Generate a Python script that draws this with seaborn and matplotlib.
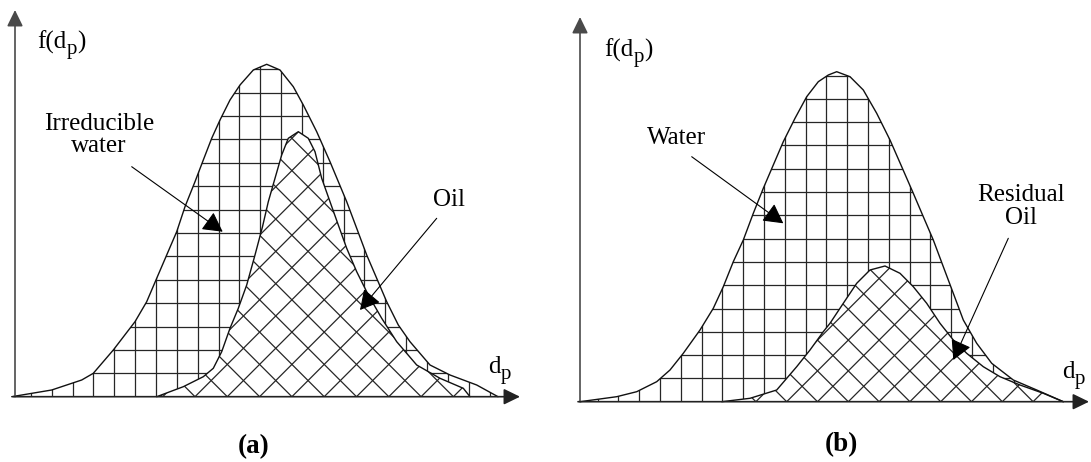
import numpy as np
import matplotlib
matplotlib.use("Agg")
import matplotlib.pyplot as plt
import seaborn as sns
from matplotlib.collections import LineCollection
from matplotlib.patches import Polygon
from matplotlib.transforms import offset_copy

# ---------------- data ----------------
# panel (a): total pore-size distribution (irreducible water + oil)
a_total_dp = [-3.3, 36.7, 66.7, 78.3, 98.3, 120, 131.7, 141.7, 151.7, 161.7, 170, 180,
              188.3, 196.7, 205, 215, 225, 238.3, 251.7, 265, 278.3, 288.3, 301.7, 315,
              331.7, 341.7, 351.7, 361.7, 371.7, 383.3, 395, 415, 435, 461.7, 483]
a_total_f = [0, 6.7, 16.7, 23.4, 46.7, 75, 95, 118.4, 141.7, 165, 190, 215,
             236.7, 258.4, 276.7, 296.7, 311.7, 326.7, 332.4, 326.7, 310, 291.7, 265, 235,
             195, 168.4, 141.7, 118.4, 95, 71.7, 55, 31.7, 21.7, 11.7, 0]
# panel (a): oil-filled pores
a_oil_dp = [141.7, 168.3, 188.3, 198.3, 206.7, 215, 223.3, 231.7, 240, 247.5, 253.3, 260,
            266.7, 273.3, 283.3, 293.3, 300, 306.7, 315, 323.3, 331.7, 341.7, 353.3, 366.7,
            381.7, 401.7, 425, 448.3, 455]
a_oil_f = [0, 10, 20, 28.4, 45, 68.4, 88.4, 111.7, 141.7, 170, 195, 218.4,
           241.7, 258.4, 265, 258.4, 245, 218.4, 195, 171.7, 148.4, 125, 101.7, 78.4,
           55, 31.7, 18.4, 8.4, 0]

# panel (b): total distribution (water + residual oil)
b_total_dp = [0, 36.7, 56.7, 76.7, 90, 103.3, 120, 133.3, 143.3, 153.3, 163.3, 173.3,
              183.3, 193.3, 203.3, 215, 226.7, 238.3, 248.3, 256.7, 270, 283.3, 296.7, 310,
              321.7, 333.3, 343.3, 353.3, 363.3, 373.3, 383.3, 396.7, 411.7, 433.3, 456.7, 483.3]
b_total_f = [0, 5, 10, 20, 31.7, 48.4, 71.7, 93.4, 115, 140, 161.7, 188.4,
             213.4, 236.7, 260, 283.4, 305, 320, 326.7, 330, 325, 311.7, 288.4, 261.7,
             235, 208.4, 185, 161.7, 135, 108.4, 81.7, 58.4, 38.4, 21.7, 11.7, 0]
# panel (b): residual oil
b_oil_dp = [141.7, 170, 196.7, 216.7, 230, 243.3, 250, 263.3, 276.7, 290, 305, 320,
            333.3, 346.7, 360, 373.3, 386.7, 403.3, 420, 440, 463.3, 483.3]
b_oil_f = [0, 3.4, 11.7, 35, 51.7, 70, 78.4, 98.4, 118.4, 131.7, 135.7, 128.4,
           115, 98.4, 78.4, 61.7, 48.4, 35, 25, 16.7, 8.4, 0]

panel_labels = ["(a)", "(b)"]
a_region_labels = ["Irreducible\nwater", "Oil"]
b_region_labels = ["Water", "Residual\nOil"]
y_label_parts = ("f(d", "p", ")")
x_label_parts = ("d", "p", "")

# ---------------- style ----------------
sns.set_theme(style="white")
plt.rcParams["font.family"] = ["Liberation Serif", "DejaVu Serif"]

W, H, DPI = 1091, 462, 100
fig = plt.figure(figsize=(W / DPI, H / DPI), dpi=DPI)
fig.patch.set_facecolor("white")
renderer = fig.canvas.get_renderer()

LINE_C = "#111111"
HATCH_C = "#262626"
AXIS_C = "#4a4a4a"
FS = 18
SUB_FS = 15


def make_axes(px0, px1, x_origin_px, y_origin_px):
    ax = fig.add_axes([px0 / W, 0, (px1 - px0) / W, 1])
    ax.set_xlim(px0 - x_origin_px, px1 - x_origin_px)
    ax.set_ylim(y_origin_px - H, y_origin_px)
    ax.axis("off")
    return ax


def sub_label(ax, pos, parts):
    base, sub, tail = parts
    t1 = ax.text(*pos, base, fontsize=FS, ha="left", va="baseline", color="black")
    w1 = t1.get_window_extent(renderer).width * 72 / DPI
    tr2 = offset_copy(ax.transData, fig=fig, x=w1 + 0.3, y=-4.5, units="points")
    t2 = ax.text(*pos, sub, fontsize=SUB_FS, ha="left", va="baseline",
                 color="black", transform=tr2)
    if tail:
        w2 = t2.get_window_extent(renderer).width * 72 / DPI
        tr3 = offset_copy(ax.transData, fig=fig, x=w1 + w2 + 0.6, y=0, units="points")
        ax.text(*pos, tail, fontsize=FS, ha="left", va="baseline", color="black",
                transform=tr3)


def clip_patch(ax, x, y):
    return Polygon(np.column_stack([x, y]), closed=True, transform=ax.transData)


def grid_hatch(ax, clip, x0, dx, dy, z):
    xl, yl = ax.get_xlim(), ax.get_ylim()
    xs = x0 + dx * np.arange(-40, 40)
    xs = xs[(xs > xl[0]) & (xs < xl[1])]
    ys = dy * np.arange(1, 40)
    ys = ys[ys < yl[1]]
    segs = [[(x, 0), (x, yl[1])] for x in xs] + [[(xl[0], y), (xl[1], y)] for y in ys]
    lc = LineCollection(segs, colors=HATCH_C, linewidths=0.9, zorder=z)
    ax.add_collection(lc)
    lc.set_clip_path(clip)


def diag_hatch(ax, clip, x0, dx, z):
    L = 700
    xs = x0 + dx * np.arange(-40, 40)
    segs = [[(x - L, -L), (x + L, L)] for x in xs] + [[(x - L, L), (x + L, -L)] for x in xs]
    lc = LineCollection(segs, colors=HATCH_C, linewidths=0.9, zorder=z)
    ax.add_collection(lc)
    lc.set_clip_path(clip)


def draw_panel(ax, tot_x, tot_y, oil_x, oil_y, grid_x0, grid_dx, grid_dy,
               diag_x0, diag_dx, y_tip, x_tip, ylab_pos, xlab_pos,
               texts, text_pos, arrows, plabel, plabel_pos):
    # regions
    ax.fill_between(tot_x, tot_y, 0, facecolor="white", edgecolor="none", zorder=1)
    grid_hatch(ax, clip_patch(ax, tot_x, tot_y), grid_x0, grid_dx, grid_dy, 2)
    ax.fill_between(oil_x, oil_y, 0, facecolor="white", edgecolor="none", zorder=3)
    diag_hatch(ax, clip_patch(ax, oil_x, oil_y), diag_x0, diag_dx, 4)
    # outlines
    sns.lineplot(x=tot_x, y=tot_y, ax=ax, color=LINE_C, lw=1.0, sort=False,
                 estimator=None, zorder=5)
    sns.lineplot(x=oil_x, y=oil_y, ax=ax, color=LINE_C, lw=1.0, sort=False,
                 estimator=None, zorder=5)
    # axes with arrows
    ap = dict(arrowstyle="-|>,head_length=0.45,head_width=0.22", color=AXIS_C,
              lw=1.2, mutation_scale=22, shrinkA=0, shrinkB=0)
    ax.annotate("", xy=(0, y_tip), xytext=(0, 0), arrowprops=ap, zorder=6)
    ap2 = dict(ap, color="#222222")
    ax.annotate("", xy=(x_tip, 0), xytext=(-2, 0), arrowprops=ap2, zorder=6)
    sub_label(ax, ylab_pos, y_label_parts)
    sub_label(ax, xlab_pos, x_label_parts)
    # region labels and pointer arrows
    for t, p, (s, e) in zip(texts, text_pos, arrows):
        ax.text(*p, t, fontsize=FS, ha="center", va="center", linespacing=1.02,
                color="black", zorder=7)
        ax.annotate("", xy=e, xytext=s, zorder=7,
                    arrowprops=dict(arrowstyle="-|>,head_length=0.55,head_width=0.3",
                                    color="black", lw=0.8, mutation_scale=22,
                                    shrinkA=0, shrinkB=0))
    ax.text(*plabel_pos, plabel, fontsize=19.5, fontweight="bold", ha="center",
            va="center", color="black")


ax_a = make_axes(0, 545, 15, 396.7)
draw_panel(ax_a, a_total_dp, a_total_f, a_oil_dp, a_oil_f,
           grid_x0=36.7, grid_dx=20.85, grid_dy=23.4, diag_x0=180, diag_dx=32.3,
           y_tip=386.7, x_tip=505, ylab_pos=(22, 348.5), xlab_pos=(473, 23.5),
           texts=a_region_labels, text_pos=[(84, 262), (434, 196.7)],
           arrows=[((116.7, 230), (207.7, 165)), ((421.7, 178.4), (345, 86.7))],
           plabel=panel_labels[0], plabel_pos=(239, -50))

ax_b = make_axes(545, 1091, 580, 401.7)
draw_panel(ax_b, b_total_dp, b_total_f, b_oil_dp, b_oil_f,
           grid_x0=38.3, grid_dx=20.8, grid_dy=23.3, diag_x0=268.3, diag_dx=30.8,
           y_tip=384.7, x_tip=509, ylab_pos=(24, 345.5), xlab_pos=(482, 23.5),
           texts=b_region_labels, text_pos=[(96.7, 263.7), (441, 195.2)],
           arrows=[((111.7, 245), (203.3, 178.4)), ((428.3, 163.4), (373.3, 41.7))],
           plabel=panel_labels[1], plabel_pos=(261, -43))

fig.savefig("out.png", dpi=DPI, facecolor="white")
